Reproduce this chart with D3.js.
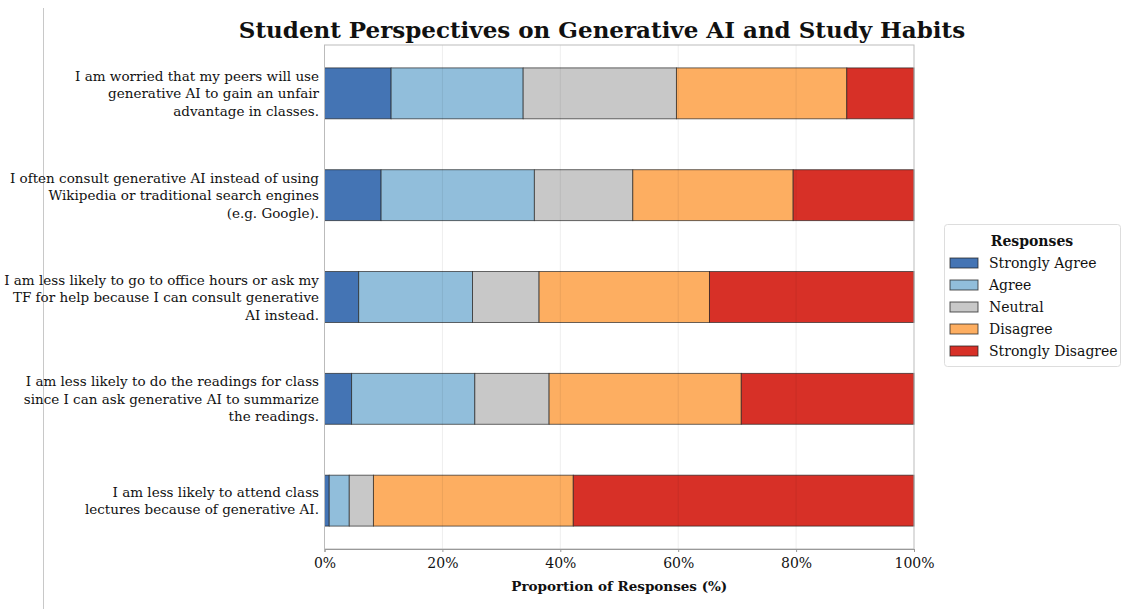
<!DOCTYPE html>
<html lang="en">
<head>
    <meta charset="UTF-8">
    <title>Student Perspectives on Generative AI</title>
    <script src="https://cdn.jsdelivr.net/npm/d3@7"></script>
    <style>
        body { margin: 0; background: #fff; }
        svg text { font-family: "DejaVu Serif", "Liberation Serif", serif; fill: #111; }
    </style>
</head>
<body>
    <div id="chart"></div>
<script>
    // statements, top to bottom
    var statements = [
        ["I am worried that my peers will use", "generative AI to gain an unfair", "advantage in classes."],
        ["I often consult generative AI instead of using", "Wikipedia or traditional search engines", "(e.g. Google)."],
        ["I am less likely to go to office hours or ask my", "TF for help because I can consult generative", "AI instead."],
        ["I am less likely to do the readings for class", "since I can ask generative AI to summarize", "the readings."],
        ["I am less likely to attend class", "lectures because of generative AI."]
    ];
    var responses = ["Strongly Agree", "Agree", "Neutral", "Disagree", "Strongly Disagree"];
    var colors = ["#4474b4", "#91bedb", "#c8c8c8", "#fdae61", "#d73027"];

    // percent per response, one array per response, in statement order
    var stronglyAgree    = [11.3, 9.6, 5.8, 4.6, 0.8];
    var agree            = [22.4, 26.0, 19.3, 20.9, 3.4];
    var neutral          = [26.0, 16.7, 11.3, 12.6, 4.1];
    var disagree         = [28.9, 27.2, 28.9, 32.6, 33.9];
    var stronglyDisagree = [11.4, 20.5, 34.7, 29.3, 57.8];
    var xTicks = [0, 20, 40, 60, 80, 100];

    var w = 1122, h = 609;
    var plotLeft = 324.5, plotRight = 914, plotTop = 45, plotBottom = 549;

    var svg = d3.select("#chart").append("svg")
        .attr("width", w).attr("height", h);

    // stray page edge line on the left
    svg.append("line")
        .attr("x1", 43.5).attr("x2", 43.5).attr("y1", 8).attr("y2", h)
        .attr("stroke", "#c8c8c8").attr("stroke-width", 1);

    var x = d3.scaleLinear().domain([0, 100]).range([plotLeft, plotRight]);
    var y = d3.scaleBand().domain(d3.range(statements.length))
        .range([plotTop, plotBottom]).paddingInner(0.5).paddingOuter(0.225);

    var rows = statements.map(function(s, i) {
        return { i: i, vals: [stronglyAgree[i], agree[i], neutral[i], disagree[i], stronglyDisagree[i]] };
    });

    // bars
    rows.forEach(function(r) {
        var acc = 0;
        r.vals.forEach(function(v, k) {
            svg.append("rect")
                .attr("x", x(acc))
                .attr("y", y(r.i))
                .attr("width", x(acc + v) - x(acc))
                .attr("height", y.bandwidth())
                .attr("fill", colors[k])
                .attr("stroke", "#222")
                .attr("stroke-opacity", 0.75)
                .attr("stroke-width", 0.9);
            acc += v;
        });
    });

    // grid on top, very faint
    svg.selectAll(".grid")
        .data(xTicks.slice(1, -1))
        .enter().append("line")
        .attr("x1", function(d) { return x(d); })
        .attr("x2", function(d) { return x(d); })
        .attr("y1", plotTop).attr("y2", plotBottom)
        .attr("stroke", "#000").attr("stroke-opacity", 0.07);

    // frame
    svg.append("rect")
        .attr("x", plotLeft).attr("y", plotTop)
        .attr("width", plotRight - plotLeft).attr("height", plotBottom - plotTop)
        .attr("fill", "none").attr("stroke", "#bbb").attr("stroke-width", 1);

    // x axis
    var xAxis = svg.append("g")
        .attr("transform", "translate(0," + plotBottom + ")")
        .call(d3.axisBottom(x).tickValues(xTicks)
            .tickFormat(function(d) { return d + "%"; })
            .tickSize(3).tickPadding(6));
    xAxis.select(".domain").attr("stroke", "#999");
    xAxis.selectAll(".tick line").attr("stroke", "#999");
    xAxis.selectAll("text").attr("font-size", 14).attr("fill", "#111")
        .attr("font-family", "DejaVu Serif");

    svg.append("text")
        .attr("x", (plotLeft + plotRight) / 2).attr("y", 591)
        .attr("text-anchor", "middle")
        .attr("font-size", 13.5).attr("font-weight", "bold")
        .text("Proportion of Responses (%)");

    // y labels
    var lineH = 17.5;
    statements.forEach(function(lines, i) {
        var cy = y(i) + y.bandwidth() / 2;
        var t = svg.append("text")
            .attr("text-anchor", "end")
            .attr("font-size", 13.5);
        lines.forEach(function(line, j) {
            t.append("tspan")
                .attr("x", 319)
                .attr("y", cy + (j - (lines.length - 1) / 2) * lineH + 5)
                .text(line);
        });
    });

    // title
    svg.append("text")
        .attr("x", 602).attr("y", 38)
        .attr("text-anchor", "middle")
        .attr("font-size", 23).attr("font-weight", "bold")
        .text("Student Perspectives on Generative AI and Study Habits");

    // legend
    var lg = svg.append("g");
    lg.append("rect")
        .attr("x", 944.5).attr("y", 224.5).attr("width", 176).attr("height", 142)
        .attr("rx", 3).attr("fill", "#fff").attr("stroke", "#ddd");
    lg.append("text")
        .attr("x", 1032).attr("y", 246)
        .attr("text-anchor", "middle").attr("font-size", 14).attr("font-weight", "bold")
        .text("Responses");
    responses.forEach(function(r, k) {
        var yy = 263 + k * 22;
        lg.append("rect")
            .attr("x", 950).attr("y", yy - 5).attr("width", 28).attr("height", 10)
            .attr("fill", colors[k]).attr("stroke", "#222").attr("stroke-opacity", 0.75);
        lg.append("text")
            .attr("x", 989).attr("y", yy + 5)
            .attr("font-size", 14)
            .text(r);
    });
</script>
</body>
</html>
